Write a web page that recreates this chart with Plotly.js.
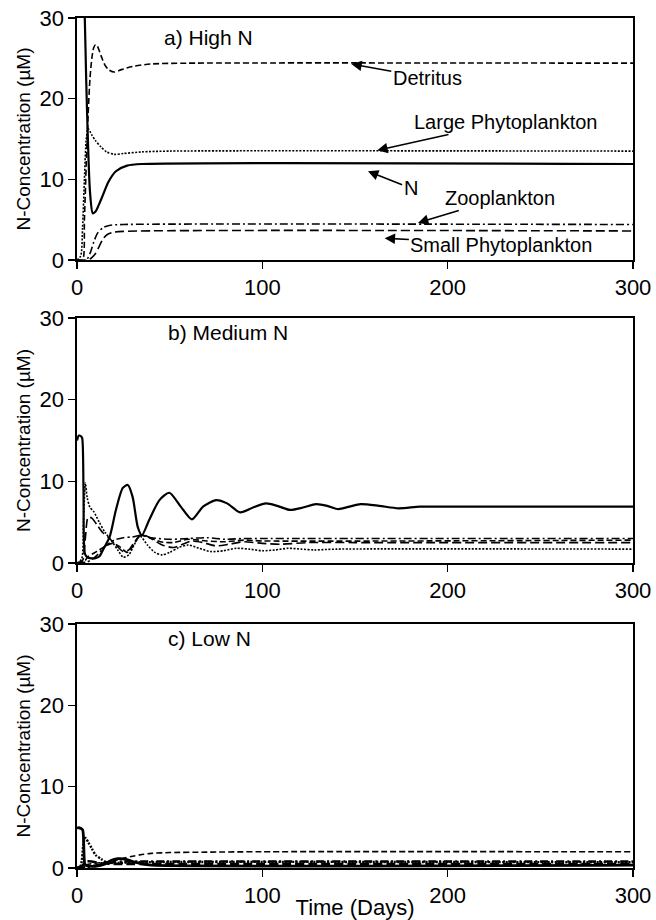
<!DOCTYPE html>
<html>
<head>
<meta charset="utf-8">
<script src="https://cdn.plot.ly/plotly-3.0.1.min.js"></script>
<style>
html,body{margin:0;padding:0;background:#fff;}
#chart{width:656px;height:920px;}
</style>
</head>
<body>
<div id="chart"></div>
<script>
// ---------- Panel a) High N ----------
const tA_N   = [0, 3, 4.2, 5, 6, 7, 8.5, 10, 13, 17, 21, 27, 35, 300];
const vA_N   = [40, 38, 30, 22, 14, 8.5, 5.8, 6.0, 7.5, 9.7, 11.0, 11.7, 11.9, 11.9];
const tA_Det = [0, 3, 4, 5, 6, 7, 8, 9, 10, 11, 13, 15, 17, 20, 24, 30, 40, 60, 300];
const vA_Det = [0, 0, 5, 12, 18, 22.5, 25, 26.3, 26.7, 26.5, 25.3, 24.2, 23.6, 23.3, 23.6, 24.0, 24.3, 24.4, 24.4];
const tA_LP  = [0, 2, 3, 4, 5, 6, 8, 10, 13, 16, 20, 25, 35, 50, 300];
const vA_LP  = [0, 0.5, 4, 10, 15, 16.3, 15.5, 14.8, 14.0, 13.4, 13.1, 13.2, 13.4, 13.5, 13.5];
const tA_Zoo = [0, 5, 7, 9, 11, 14, 18, 25, 300];
const vA_Zoo = [0, 0, 0.8, 2.2, 3.3, 4.0, 4.3, 4.4, 4.4];
const tA_SP  = [0, 6, 8, 10, 12, 14, 16, 19, 25, 300];
const vA_SP  = [0, 0, 0.3, 0.8, 1.7, 2.6, 3.1, 3.4, 3.55, 3.6];

// ---------- Panel b) Medium N ----------
const tB_N   = [0, 1, 2.2, 2.8, 3.5, 4.2, 5.5, 7, 10, 12, 14, 17.6, 21, 24.7, 27.4, 30, 32.8, 35, 39, 44.5, 49.8, 56, 62, 68, 75, 81, 88, 95, 102, 108, 115, 122, 129, 135, 141, 147, 153, 163, 173.5, 185, 200, 300];
const vB_N   = [15.0, 15.6, 15.5, 15.3, 9, 1.2, 0.7, 0.6, 0.6, 0.8, 1.6, 3.2, 6.5, 9.2, 9.55, 8.1, 4.4, 3.4, 5.3, 7.7, 8.6, 6.9, 5.35, 6.9, 7.7, 7.3, 6.2, 6.8, 7.3, 7.0, 6.5, 6.8, 7.2, 7.0, 6.6, 6.9, 7.2, 7.0, 6.7, 6.9, 6.9, 6.9];
const tB_LP  = [0, 2.5, 3.5, 4.5, 5.5, 7, 9, 12, 15, 19, 22, 25, 28, 31, 34, 38, 42, 46, 50, 55, 60, 66, 72, 79, 86, 93, 100, 107, 114, 121, 128, 140, 300];
const vB_LP  = [0, 0.5, 5, 9.8, 8, 6.8, 6.3, 5, 3.8, 2.6, 1.6, 0.7, 1.0, 2.3, 3.3, 2.2, 1.3, 1.0, 1.3, 1.9, 2.2, 1.8, 1.4, 1.5, 1.8, 1.7, 1.5, 1.6, 1.8, 1.7, 1.6, 1.7, 1.7];
const tB_SP  = [0, 3, 4.5, 6, 8, 11, 14, 17.6, 21, 25, 28, 31, 35, 40, 46, 52, 58, 62, 68, 75, 82, 90, 100, 110, 125, 150, 300];
const vB_SP  = [0, 0.3, 3, 5.6, 5.5, 4.6, 3.7, 3.0, 2.2, 1.4, 1.6, 2.6, 3.5, 3.0, 2.2, 1.9, 2.4, 2.7, 2.5, 2.1, 2.3, 2.6, 2.4, 2.3, 2.5, 2.5, 2.5];
const tB_Zoo = [0, 5, 8, 11, 15, 20, 25, 30, 35, 40, 50, 60, 70, 80, 90, 100, 120, 300];
const vB_Zoo = [0, 0.1, 0.4, 1.0, 2.0, 2.8, 3.1, 3.2, 3.4, 3.1, 2.9, 3.0, 3.1, 2.9, 3.0, 3.0, 3.0, 3.0];
const tB_Det = [0, 4, 6, 9, 12, 15, 19, 23, 27, 30, 34, 38, 45, 52, 60, 70, 80, 90, 100, 300];
const vB_Det = [0, 0.2, 0.8, 1.2, 1.6, 2.0, 2.4, 2.0, 1.3, 2.0, 3.4, 3.2, 2.6, 2.5, 2.9, 2.7, 2.6, 2.8, 2.7, 2.8];

// ---------- Panel c) Low N ----------
const tC_N   = [0, 1, 3, 3.6, 4.2, 5, 8, 12, 15, 18, 22, 26, 30, 35, 40, 300];
const vC_N   = [4.9, 4.95, 4.7, 3, 0.5, 0.3, 0.2, 0.3, 0.5, 0.9, 1.15, 1.1, 0.8, 0.5, 0.35, 0.35];
const tC_LP  = [0, 2, 3.5, 4.5, 6, 8, 10, 13, 16, 20, 30, 300];
const vC_LP  = [0, 0.3, 3, 3.7, 3.2, 2.4, 1.6, 1.1, 0.7, 0.6, 0.7, 0.7];
const tC_SP  = [0, 3, 5, 8, 12, 20, 30, 300];
const vC_SP  = [0, 0.3, 0.8, 0.8, 0.6, 0.5, 0.5, 0.5];
const tC_Zoo = [0, 5, 10, 15, 20, 25, 30, 300];
const vC_Zoo = [0, 0.1, 0.3, 0.5, 0.7, 0.8, 0.8, 0.8];
const tC_Det = [0, 5, 10, 15, 20, 25, 30, 35, 40, 50, 70, 100, 300];
const vC_Det = [0, 0.4, 0.6, 0.7, 0.9, 1.2, 1.45, 1.65, 1.8, 1.9, 1.95, 2.0, 2.0];

const panelLabels = ['a) High N', 'b) Medium N', 'c) Low N'];
const yTicks = [0, 10, 20, 30];
const xTicks = [0, 100, 200, 300];
const yTitle = 'N-Concentration (\u00B5M)';
const xTitle = 'Time (Days)';

// Arrow labels in panel a: [text, headT, headV, textT, textV]
const arrowLabels = [
  ['Detritus', 148, 24.3, 189, 22.6],
  ['Large Phytoplankton', 162, 13.6, 231, 17.1],
  ['N', 157, 11.0, 180, 8.9],
  ['Zooplankton', 184, 4.6, 228, 7.7],
  ['Small Phytoplankton', 166, 2.7, 229, 1.9]
];

const FONT = 'Liberation Sans, Arial, Helvetica, sans-serif';
const styles = {
  N:   {color: '#000', width: 2.2, dash: 'solid', shape: 'spline', smoothing: 0.7},
  LP:  {color: '#000', width: 1.6, dash: '2px,1.5px', shape: 'spline', smoothing: 0.7},
  SP:  {color: '#000', width: 1.6, dash: '9px,4px', shape: 'spline', smoothing: 0.7},
  Zoo: {color: '#000', width: 1.6, dash: '8px,3px,2px,3px', shape: 'spline', smoothing: 0.7},
  Det: {color: '#000', width: 1.6, dash: '6px,3px', shape: 'spline', smoothing: 0.7}
};
function tr(x, y, st, ax) {
  return {x: x, y: y, type: 'scatter', mode: 'lines', line: st,
          xaxis: 'x' + (ax === 1 ? '' : ax), yaxis: 'y' + (ax === 1 ? '' : ax),
          showlegend: false, hoverinfo: 'skip'};
}
const wide = (st, w) => Object.assign({}, st, {width: w});
const data = [
  tr(tA_N, vA_N, styles.N, 1), tr(tA_Det, vA_Det, styles.Det, 1), tr(tA_LP, vA_LP, styles.LP, 1),
  tr(tA_Zoo, vA_Zoo, styles.Zoo, 1), tr(tA_SP, vA_SP, styles.SP, 1),
  tr(tB_N, vB_N, styles.N, 2), tr(tB_Det, vB_Det, styles.Det, 2), tr(tB_LP, vB_LP, styles.LP, 2),
  tr(tB_Zoo, vB_Zoo, styles.Zoo, 2), tr(tB_SP, vB_SP, styles.SP, 2),
  tr(tC_Det, vC_Det, styles.Det, 3),
  tr(tC_LP, vC_LP, wide(styles.LP, 2.4), 3),
  tr(tC_Zoo, vC_Zoo, wide(styles.Zoo, 2.6), 3),
  tr(tC_SP, vC_SP, wide(styles.SP, 2.6), 3),
  tr(tC_N, vC_N, wide(styles.N, 2.8), 3)
];

const H = 920;
const doms = [[260, 18], [563, 318], [868, 624]].map(p => [1 - p[0] / H, 1 - p[1] / H]);

function xax(i, withTitle) {
  const o = {domain: [0, 1], range: [0, 300], tickvals: xTicks, ticktext: xTicks.map(String),
    ticks: 'outside', ticklen: 7, tickwidth: 1.5, tickcolor: '#000',
    showline: true, linecolor: '#000', linewidth: 1.6, mirror: true,
    showgrid: false, zeroline: false, fixedrange: true,
    tickfont: {family: FONT, size: 22, color: '#000'},
    anchor: 'y' + (i === 1 ? '' : i)};
  if (withTitle) o.title = {text: xTitle, font: {family: FONT, size: 22, color: '#000'}, standoff: 0};
  return o;
}
function yax(i, zl) {
  return {domain: doms[i - 1], range: [0, 30], tickvals: yTicks, ticktext: yTicks.map(String),
    ticks: 'outside', ticklen: 7, tickwidth: 1.5, tickcolor: '#000',
    showline: true, linecolor: '#000', linewidth: 1.6, mirror: true,
    showgrid: false, fixedrange: true,
    zeroline: zl, zerolinecolor: '#000', zerolinewidth: 3.5,
    tickfont: {family: FONT, size: 22, color: '#000'},
    title: {text: yTitle, font: {family: FONT, size: 19, color: '#000'}, standoff: 4},
    anchor: 'x' + (i === 1 ? '' : i)};
}

const annotations = [];
panelLabels.forEach((t, i) => {
  const s = i === 0 ? '' : String(i + 1);
  annotations.push({text: t, x: i === 0 ? 46 : 48, y: i === 0 ? 27.6 : 28.2, xref: 'x' + s, yref: 'y' + s,
    xanchor: 'left', yanchor: 'middle', showarrow: false,
    font: {family: FONT, size: 21, color: '#000'}});
});
arrowLabels.forEach(a => {
  annotations.push({text: a[0], x: a[1], y: a[2], ax: a[3], ay: a[4], xref: 'x', yref: 'y',
    axref: 'x', ayref: 'y', showarrow: true, arrowhead: 2, arrowsize: 1.3, arrowwidth: 1.6,
    arrowcolor: '#000', standoff: 0,
    font: {family: FONT, size: 20, color: '#000'}});
});

const layout = {
  width: 656, height: 920,
  margin: {l: 77, r: 23, t: 0, b: 0},
  paper_bgcolor: '#fff', plot_bgcolor: '#fff',
  showlegend: false,
  xaxis: xax(1, false), yaxis: yax(1, false),
  xaxis2: xax(2, false), yaxis2: yax(2, true),
  xaxis3: xax(3, true), yaxis3: yax(3, true),
  annotations: annotations
};
Plotly.newPlot('chart', data, layout, {displayModeBar: false, staticPlot: true});
</script>
</body>
</html>
